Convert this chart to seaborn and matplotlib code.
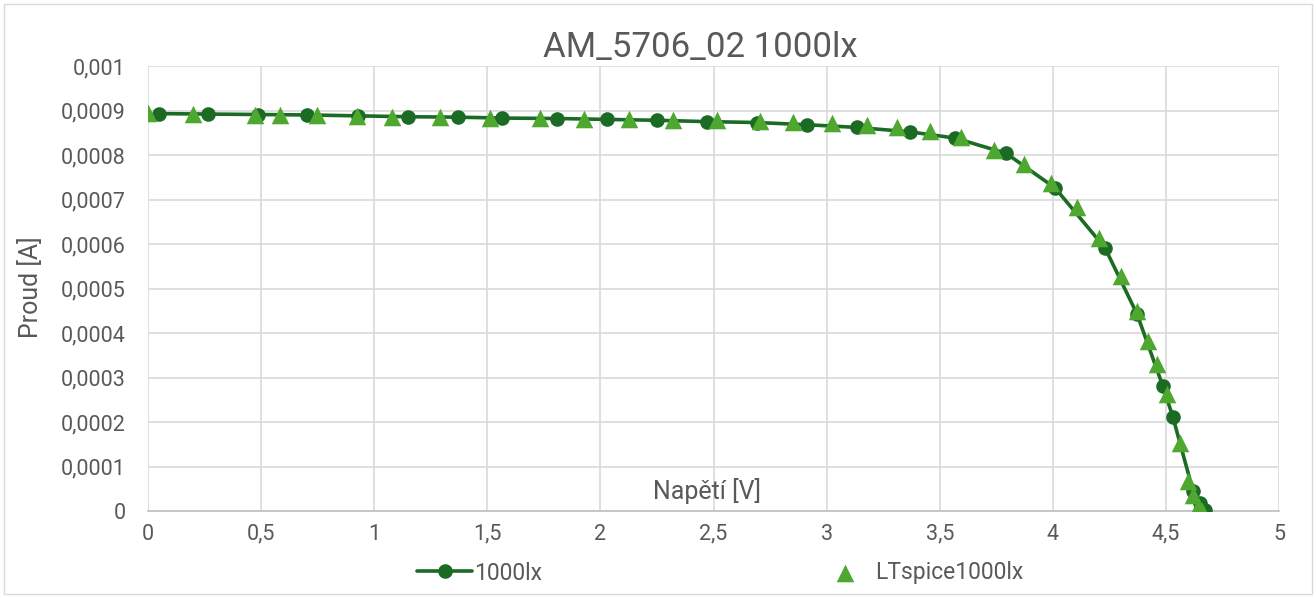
import matplotlib
matplotlib.use("Agg")
import matplotlib.pyplot as plt
import seaborn as sns
import pandas as pd
from matplotlib.patches import Rectangle

# ---- data ----
meas_v = [0.049, 0.265, 0.486, 0.703, 0.928, 1.149, 1.370, 1.565, 1.808, 2.029,
          2.250, 2.471, 2.692, 2.913, 3.134, 3.369, 3.568, 3.793, 4.010, 4.231,
          4.372, 4.487, 4.531, 4.620, 4.651, 4.673]
meas_i = [0.000893, 0.000892, 0.000891, 0.000890, 0.000888, 0.000886, 0.000885, 0.000883,
          0.000882, 0.000880, 0.000878, 0.000875, 0.000873, 0.000868, 0.000862, 0.000852,
          0.000838, 0.000804, 0.000726, 0.000591, 0.000443, 0.000280, 0.000211, 0.000045,
          0.000018, 0.000002]

sim_v = [0.000, 0.199, 0.473, 0.584, 0.747, 0.924, 1.079, 1.291, 1.512, 1.733,
         1.927, 2.126, 2.321, 2.515, 2.706, 2.851, 3.024, 3.179, 3.311, 3.457,
         3.594, 3.740, 3.873, 3.992, 4.107, 4.204, 4.301, 4.372, 4.421, 4.461,
         4.505, 4.562, 4.598, 4.620, 4.642, 4.660]
sim_i = [0.000894, 0.000893, 0.000891, 0.000890, 0.000889, 0.000888, 0.000886, 0.000885,
         0.000884, 0.000883, 0.000882, 0.000880, 0.000879, 0.000878, 0.000877, 0.000874,
         0.000872, 0.000867, 0.000862, 0.000854, 0.000841, 0.000812, 0.000780, 0.000738,
         0.000683, 0.000613, 0.000527, 0.000449, 0.000381, 0.000330, 0.000263, 0.000152,
         0.000068, 0.000036, 0.000010, 0.000000]

x_ticks = [0, 0.5, 1, 1.5, 2, 2.5, 3, 3.5, 4, 4.5, 5]
x_labels = ["0", "0,5", "1", "1,5", "2", "2,5", "3", "3,5", "4", "4,5", "5"]
y_ticks = [0, 0.0001, 0.0002, 0.0003, 0.0004, 0.0005, 0.0006, 0.0007, 0.0008, 0.0009, 0.001]
y_labels = ["0", "0,0001", "0,0002", "0,0003", "0,0004", "0,0005", "0,0006",
            "0,0007", "0,0008", "0,0009", "0,001"]

title = "AM_5706_02 1000lx"
series_names = ["1000lx", "LTspice1000lx"]

df_meas = pd.DataFrame({"V": meas_v, "I": meas_i})
df_sim = pd.DataFrame({"V": sim_v, "I": sim_i})

# ---- style ----
sns.set_theme(style="white")
plt.rcParams["font.family"] = ["Roboto", "DejaVu Sans"]

dark = "#1b6b25"
light = "#4ea72e"
txt = "#595959"

fig = plt.figure(figsize=(13.16, 5.98), dpi=100)
ax = fig.add_axes([148 / 1316, 1 - 511 / 598, (1279 - 148) / 1316, (511 - 66) / 598])

sns.lineplot(data=df_meas, x="V", y="I", ax=ax, sort=False, color=dark, linewidth=2.6,
             marker="o", markersize=10.5, markeredgewidth=0, label=series_names[0], zorder=3)
sns.scatterplot(data=df_sim, x="V", y="I", ax=ax, color=light, marker="^", s=160,
                linewidth=0, label=series_names[1], zorder=4)

ax.set_xlim(0, 5)
ax.set_ylim(0, 0.001)
ax.set_xticks(x_ticks)
ax.set_xticklabels(x_labels)
ax.set_yticks(y_ticks)
ax.set_yticklabels(y_labels)
ax.tick_params(axis="both", colors=txt, labelsize=15.5, length=0)
ax.tick_params(axis="x", pad=9)
ax.tick_params(axis="y", pad=16)
ax.grid(True, color="#d9d9d9", linewidth=1.2)
ax.set_axisbelow(True)
for s in ["top", "right", "left"]:
    ax.spines[s].set_visible(False)
ax.spines["bottom"].set_color("#bfbfbf")
ax.spines["bottom"].set_linewidth(1.2)

ax.set_xlabel("")
ax.set_ylabel("")
fig.text(707 / 1316, 1 - 491 / 598, "Napětí [V]", ha="center", va="center", fontsize=18, color=txt)
fig.text(31 / 1316, 1 - 287 / 598, "Proud [A]", ha="center", va="center", rotation=90,
         fontsize=18, color=txt)
fig.text(700 / 1316, 1 - 47 / 598, title, ha="center", va="center", fontsize=25, color=txt)

if ax.legend_:
    ax.legend_.remove()
handles, labels = ax.get_legend_handles_labels()
fig.legend(handles, labels, loc="center", bbox_to_anchor=(720 / 1316, 1 - 573 / 598), ncol=2,
           frameon=False, fontsize=16.5, labelcolor=txt, columnspacing=12, handletextpad=0.1,
           handlelength=2.4)

fig.patches.append(Rectangle((4 / 1316, 4 / 598), 1 - 8 / 1316, 1 - 8 / 598,
                             transform=fig.transFigure, fill=False, edgecolor="#d9d9d9",
                             linewidth=1))

fig.savefig("out.png", dpi=100, facecolor="white")
